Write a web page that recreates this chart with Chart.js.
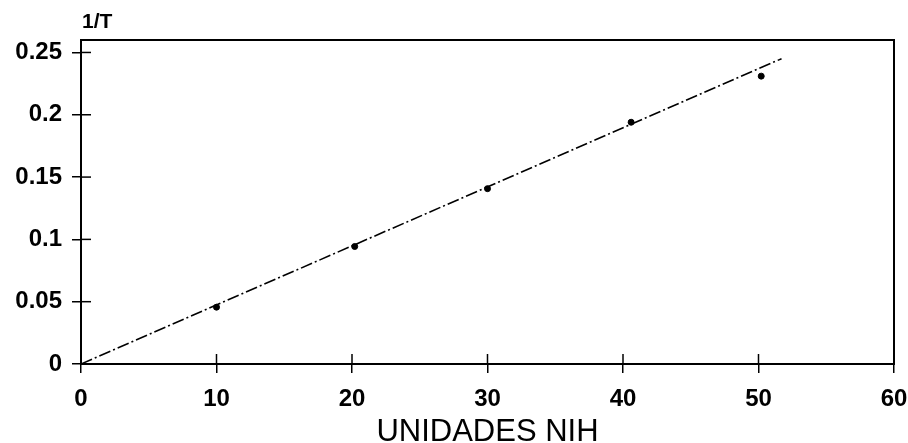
<!DOCTYPE html>
<html>
<head>
<meta charset="utf-8">
<script src="https://cdn.jsdelivr.net/npm/chart.js@4/dist/chart.umd.min.js"></script>
<style>
  html, body { margin: 0; padding: 0; background: #fff; }
  #wrap { width: 908px; height: 443px; }
</style>
</head>
<body>
<div id="wrap"><canvas id="chart"></canvas></div>
<script>
// measured points (UNIDADES NIH vs 1/T)
const unidades = [10.0, 20.2, 30.0, 40.6, 50.2];
const inversoT = [0.0456, 0.0943, 0.1407, 0.194, 0.231];

// fitted line
const lineaX = [0, 51.7];
const lineaY = [0, 0.245];

const xTicks = [0, 10, 20, 30, 40, 50, 60];
const yTicks = [0, 0.05, 0.1, 0.15, 0.2, 0.25];
const yTickLabels = ['0', '0.05', '0.1', '0.15', '0.2', '0.25'];

const FONT = "'Liberation Sans', Arial, sans-serif";

// frame around plot + ticks crossing into the plot + "1/T" label
const framePlugin = {
    id: 'frame',
    afterDraw(chart) {
        const ctx = chart.ctx;
        const a = chart.chartArea;
        ctx.save();
        ctx.strokeStyle = '#000';
        ctx.lineWidth = 2;
        ctx.strokeRect(a.left, a.top, a.right - a.left, a.bottom - a.top);

        ctx.lineWidth = 1.5;
        const xs = chart.scales.x;
        xs.ticks.forEach((t, i) => {
            const px = xs.getPixelForTick(i);
            ctx.beginPath();
            ctx.moveTo(px, a.bottom);
            ctx.lineTo(px, a.bottom - 10);
            ctx.stroke();
        });
        const ys = chart.scales.y;
        ys.ticks.forEach((t, i) => {
            const py = ys.getPixelForTick(i);
            ctx.beginPath();
            ctx.moveTo(a.left, py);
            ctx.lineTo(a.left + 10, py);
            ctx.stroke();
        });

        ctx.fillStyle = '#000';
        ctx.font = 'bold 21px ' + FONT;
        ctx.textAlign = 'left';
        ctx.textBaseline = 'alphabetic';
        ctx.fillText('1/T', a.left + 1, 28);
        ctx.restore();
    }
};

const puntos = unidades.map((v, i) => ({ x: v, y: inversoT[i] }));
const linea = lineaX.map((v, i) => ({ x: v, y: lineaY[i] }));

new Chart(document.getElementById('chart'), {
    type: 'scatter',
    data: {
        datasets: [{
            label: 'recta',
            data: linea,
            showLine: true,
            borderColor: '#000',
            borderWidth: 1.6,
            borderDash: [12, 3, 2, 3],
            pointRadius: 0,
            fill: false
        }, {
            label: 'datos',
            data: puntos,
            pointRadius: 3,
            pointBackgroundColor: '#000',
            pointBorderColor: '#000',
            showLine: false
        }]
    },
    options: {
        responsive: true,
        maintainAspectRatio: false,
        animation: false,
        layout: { padding: { top: 40, right: 14, left: 0, bottom: 0 } },
        plugins: {
            legend: { display: false },
            tooltip: { enabled: false }
        },
        scales: {
            x: {
                type: 'linear',
                min: 0,
                max: 60,
                afterBuildTicks: s => { s.ticks = xTicks.map(v => ({ value: v })); },
                afterFit: s => { s.height = 79; s.paddingRight = 0; s.paddingLeft = 0; },
                grid: { drawOnChartArea: false, tickLength: 9, color: '#000', lineWidth: 1.5 },
                border: { color: '#000', width: 2 },
                ticks: {
                    color: '#000',
                    padding: 12,
                    maxRotation: 0,
                    font: { family: FONT, size: 24, weight: 'bold' }
                },
                title: {
                    display: true,
                    text: 'UNIDADES NIH',
                    color: '#000',
                    padding: { top: 0, bottom: -5 },
                    font: { family: FONT, size: 31, weight: 'normal', lineHeight: 1 }
                }
            },
            y: {
                type: 'linear',
                min: 0,
                max: 0.26,
                afterBuildTicks: s => { s.ticks = yTicks.map(v => ({ value: v })); },
                afterFit: s => { s.width = 81; s.paddingTop = 0; s.paddingBottom = 0; },
                grid: { drawOnChartArea: false, tickLength: 9, color: '#000', lineWidth: 1.5 },
                border: { color: '#000', width: 2 },
                ticks: {
                    color: '#000',
                    padding: 10,
                    font: { family: FONT, size: 24, weight: 'bold' },
                    callback: (v, i) => yTickLabels[i]
                }
            }
        }
    },
    plugins: [framePlugin]
});
</script>
</body>
</html>
